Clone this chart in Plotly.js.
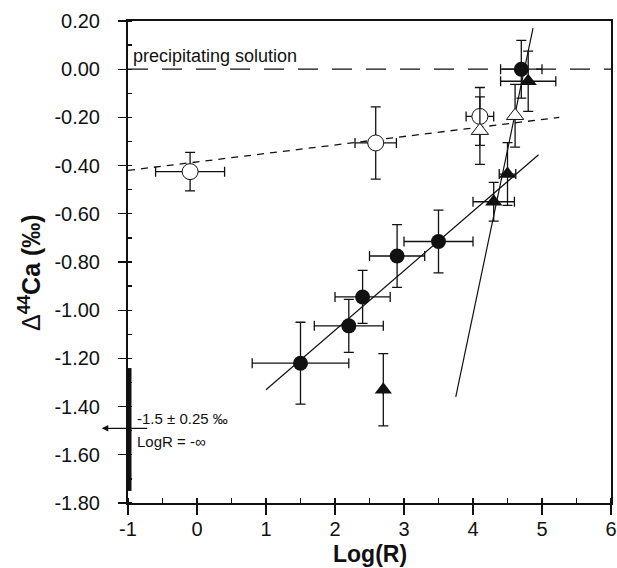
<!DOCTYPE html>
<html>
<head>
<meta charset="utf-8">
<script src="https://cdn.plot.ly/plotly-3.0.1.min.js"></script>
<style>html,body{margin:0;padding:0;background:#fff;}#chart{width:617px;height:568px;}</style>
</head>
<body>
<div id="chart"></div>
<script>
// Filled circles
const fcX = [1.5, 2.2, 2.4, 2.9, 3.5, 4.7];
const fcY = [-1.22, -1.065, -0.945, -0.775, -0.715, 0.0];
const fcXerr = [0.7, 0.5, 0.4, 0.4, 0.5, 0.3];
const fcYerr = [0.17, 0.11, 0.11, 0.13, 0.13, 0.12];
// Filled triangles
const ftX = [2.7, 4.3, 4.5, 4.8];
const ftY = [-1.33, -0.55, -0.435, -0.05];
const ftXerr = [0, 0.3, 0.12, 0.4];
const ftYerr = [0.15, 0.08, 0.13, 0.125];
// Open circles
const ocX = [-0.1, 2.59, 4.1];
const ocY = [-0.425, -0.306, -0.196];
const ocXerr = [0.5, 0.3, 0.2];
const ocYerr = [0.08, 0.15, 0.12];
// Open triangles
const otX = [4.1, 4.61];
const otY = [-0.255, -0.193];
const otYerr = [0.14, 0.13];
// Fit lines (endpoints)
const fitCircX = [1.0, 4.95];
const fitCircY = [-1.33, -0.355];
const fitTriX = [3.75, 4.87];
const fitTriY = [-1.36, 0.17];
const fitOpenX = [-1.0, 5.25];
const fitOpenY = [-0.42, -0.2];
const solX = [-1, 6];
const solY = [0, 0];
// Log R = -inf range
const infX = [-1, -1];
const infY = [-1.24, -1.75];
const xTicks = [-1, 0, 1, 2, 3, 4, 5, 6];
const xTickText = ['-1', '0', '1', '2', '3', '4', '5', '6'];
const yTicks = [0.2, 0, -0.2, -0.4, -0.6, -0.8, -1.0, -1.2, -1.4, -1.6, -1.8];
const yTickText = ['0.20', '0.00', '-0.20', '-0.40', '-0.60', '-0.80', '-1.00', '-1.20', '-1.40', '-1.60', '-1.80'];

const eb = (arr) => ({type: 'data', array: arr, visible: true, color: '#111', thickness: 1.3, width: 5});
const ln = (x, y, dash, w) => ({x: x, y: y, mode: 'lines', type: 'scatter', line: {color: '#111', width: w, dash: dash}, hoverinfo: 'skip'});

const traces = [
  ln(solX, solY, '20px,14px', 1.3),
  ln(fitOpenX, fitOpenY, '7px,6px', 1.3),
  ln(fitCircX, fitCircY, 'solid', 1.2),
  ln(fitTriX, fitTriY, 'solid', 1.2),
  ln(infX, infY, 'solid', 7),
  {x: ocX, y: ocY, mode: 'markers', type: 'scatter', error_x: eb(ocXerr), error_y: eb(ocYerr),
   marker: {symbol: 'circle', size: 16, color: '#fff', line: {color: '#111', width: 1}}},
  {x: otX, y: otY, mode: 'markers', type: 'scatter', error_y: eb(otYerr),
   marker: {symbol: 'triangle-up', size: 15, color: '#fff', line: {color: '#111', width: 1}}},
  {x: fcX, y: fcY, mode: 'markers', type: 'scatter', error_x: eb(fcXerr), error_y: eb(fcYerr),
   marker: {symbol: 'circle', size: 15, color: '#111'}},
  {x: ftX, y: ftY, mode: 'markers', type: 'scatter', error_x: eb(ftXerr), error_y: eb(ftYerr),
   marker: {symbol: 'triangle-up', size: 15, color: '#111'}}
];

const font = 'Liberation Sans, Arial, sans-serif';
const layout = {
  width: 617, height: 568,
  margin: {l: 128, r: 6, t: 21, b: 65},
  showlegend: false,
  paper_bgcolor: '#fff', plot_bgcolor: '#fff',
  font: {family: font, color: '#111'},
  xaxis: {
    range: [-1, 6], tickmode: 'array', tickvals: xTicks, ticktext: xTickText,
    ticks: 'outside', ticklen: 10, tickwidth: 1.3, tickcolor: '#111', ticklabelstandoff: -3,
    showgrid: false, zeroline: false, showline: true, linecolor: '#111', linewidth: 2, mirror: true,
    tickfont: {size: 20, family: font, color: '#111'},
    minor: {tickmode: 'linear', tick0: -1, dtick: 0.5, ticks: 'inside', ticklen: 5, tickcolor: '#111', showgrid: false}
  },
  yaxis: {
    range: [-1.8, 0.2], tickmode: 'array', tickvals: yTicks, ticktext: yTickText,
    ticks: 'outside', ticklen: 8, tickwidth: 1.3, tickcolor: '#111', ticklabelstandoff: 14,
    showgrid: false, zeroline: false, showline: true, linecolor: '#111', linewidth: 2, mirror: true,
    tickfont: {size: 20, family: font, color: '#111'},
    minor: {tickmode: 'linear', tick0: -1.8, dtick: 0.1, ticks: 'inside', ticklen: 4, tickcolor: '#111', showgrid: false}
  },
  annotations: [
    {x: 0.5, y: -0.1349, xref: 'paper', yref: 'paper', text: '<b>Log(R)</b>', showarrow: false,
     xanchor: 'center', yanchor: 'bottom', borderpad: 0, font: {size: 23, family: font, color: '#111'}},
    {x: -0.203, y: 0.479, xref: 'paper', yref: 'paper', text: 'Δ<b><sup>44</sup>Ca (‰)</b>', showarrow: false,
     textangle: -90, xanchor: 'center', yanchor: 'middle', font: {size: 25, family: font, color: '#111'}},
    {x: -0.95, y: 0.0, xref: 'x', yref: 'y', text: 'precipitating solution', showarrow: false,
     xanchor: 'left', yanchor: 'bottom', yshift: 1, font: {size: 18, family: font, color: '#111'}},
    {x: -0.9, y: -1.449, xref: 'x', yref: 'y', text: '-1.5 ± 0.25 ‰', showarrow: false,
     xanchor: 'left', yanchor: 'middle', font: {size: 15, family: font, color: '#111'}},
    {x: -0.9, y: -1.545, xref: 'x', yref: 'y', text: 'LogR = -∞', showarrow: false,
     xanchor: 'left', yanchor: 'middle', font: {size: 15, family: font, color: '#111'}},
    {x: -1.38, y: -1.49, ax: -0.7, ay: -1.49, xref: 'x', yref: 'y', axref: 'x', ayref: 'y',
     text: '', showarrow: true, arrowhead: 2, arrowsize: 1, arrowwidth: 1.3, arrowcolor: '#111', standoff: 0}
  ]
};

Plotly.newPlot('chart', traces, layout, {displayModeBar: false, staticPlot: true});
</script>
</body>
</html>
